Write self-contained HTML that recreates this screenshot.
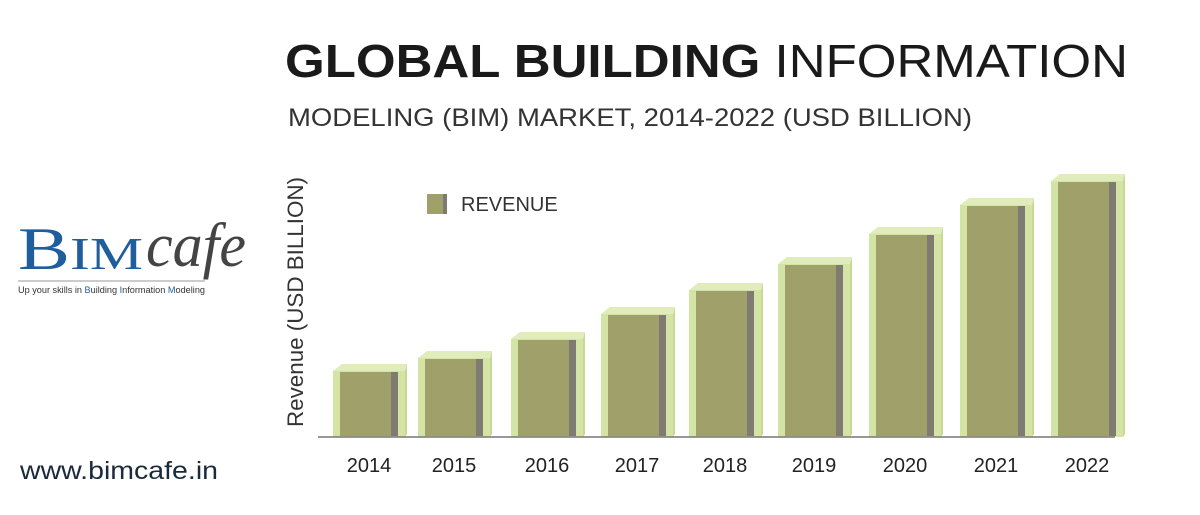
<!DOCTYPE html>
<html><head><meta charset="utf-8"><style>
body{margin:0;width:1200px;height:510px;background:#fff;overflow:hidden;font-family:"Liberation Sans",sans-serif}
</style></head><body>
<svg width="1200" height="510" xmlns="http://www.w3.org/2000/svg">
<text x="285" y="77" font-size="46" font-family="Liberation Sans" fill="#1a1a1a" textLength="843" lengthAdjust="spacingAndGlyphs"><tspan font-weight="bold">GLOBAL BUILDING </tspan><tspan font-weight="normal">INFORMATION</tspan></text>
<text x="288" y="126" font-size="25" fill="#333" textLength="684" lengthAdjust="spacingAndGlyphs">MODELING (BIM) MARKET, 2014-2022 (USD BILLION)</text>
<text transform="translate(303,427) rotate(-90)" font-size="22" fill="#333" textLength="250" lengthAdjust="spacingAndGlyphs">Revenue (USD BILLION)</text>
<rect x="427" y="194" width="16" height="20" fill="#a0a06a"/><rect x="443" y="194" width="4" height="20" fill="#7f7a72"/>
<text x="461" y="211" font-size="20" fill="#333">REVENUE</text>
<g id="bars"></g>
<line x1="318" y1="437" x2="1115" y2="437" stroke="#777" stroke-width="1.5"/>
<g font-size="20" fill="#222" text-anchor="middle">
<text x="369" y="472">2014</text><text x="454" y="472">2015</text><text x="547" y="472">2016</text><text x="637" y="472">2017</text><text x="725" y="472">2018</text><text x="814" y="472">2019</text><text x="905" y="472">2020</text><text x="996" y="472">2021</text><text x="1087" y="472">2022</text>
</g>
<text x="18" y="269" font-size="60" font-family="Liberation Serif" fill="#1f5d9c" textLength="125" lengthAdjust="spacingAndGlyphs">B<tspan font-size="46">IM</tspan></text>
<text x="146" y="266" font-size="62" font-family="Liberation Serif" font-style="italic" fill="#444" textLength="100" lengthAdjust="spacingAndGlyphs">cafe</text>
<line x1="18" y1="281" x2="205" y2="281" stroke="#999" stroke-width="1"/>
<text x="18" y="293" font-size="9" fill="#333" textLength="187" lengthAdjust="spacingAndGlyphs">Up your skills in <tspan fill="#1f5d9c">B</tspan>uilding <tspan fill="#1f5d9c">I</tspan>nformation <tspan fill="#1f5d9c">M</tspan>odeling</text>
<text x="20" y="479" font-size="25" fill="#1a2a3a" textLength="198" lengthAdjust="spacingAndGlyphs">www.bimcafe.in</text>
</svg>
<script>
var L=[340,425,518,608,696,785,876,967,1058],T=[372,359,340,315,291,265,235,206,182],w=58,b=436,s='';
for(var i=0;i<9;i++){var x=L[i],t=T[i];
s+='<polygon points="'+(x-7)+','+(t-1)+' '+(x+2)+','+(t-8)+' '+(x+w+9)+','+(t-8)+' '+(x+w+7)+','+(t-1)+'" fill="#e0ecbb"/>';
s+='<rect x="'+(x-7)+'" y="'+(t-1)+'" width="'+(w+14)+'" height="'+(b-t+2)+'" fill="#d4e4a4"/>';
s+='<polygon points="'+(x+w+7)+','+(t-1)+' '+(x+w+9)+','+(t-8)+' '+(x+w+9)+','+(b-2)+' '+(x+w+7)+','+(b+1)+'" fill="#c6d892"/>';
s+='<rect x="'+x+'" y="'+t+'" width="'+w+'" height="'+(b-t)+'" fill="#a0a06a"/>';
s+='<rect x="'+(x+w-7)+'" y="'+t+'" width="7" height="'+(b-t)+'" fill="#7f7a72"/>';}
document.getElementById('bars').innerHTML=s;
</script>
</body></html>
